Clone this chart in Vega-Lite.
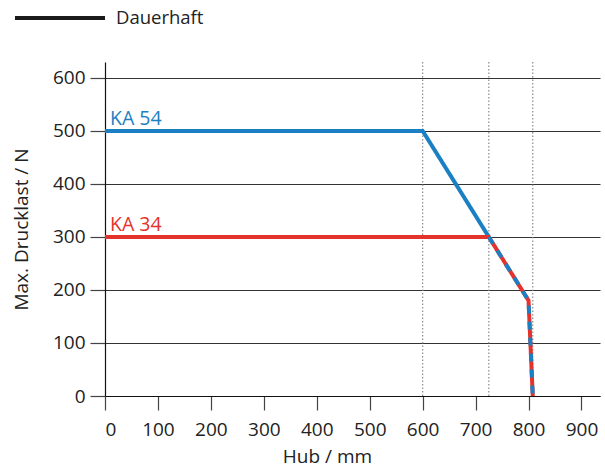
{
  "$schema": "https://vega.github.io/schema/vega-lite/v6.json",
  "width": 495,
  "height": 334,
  "autosize": {"type": "none"},
  "padding": {"left": 105, "top": 62, "right": 5, "bottom": 74},
  "config": {
    "font": "Open Sans",
    "view": {"stroke": null},
    "axis": {
      "labelFont": "Open Sans",
      "titleFont": "Open Sans",
      "labelFontSize": 19,
      "titleFontSize": 19,
      "titleFontWeight": "normal",
      "labelColor": "#222",
      "titleColor": "#222",
      "domainColor": "#111",
      "tickColor": "#444",
      "domainWidth": 1.2,
      "tickWidth": 1.2
    }
  },
  "datasets": {
    "linien": [
      {"Modell": "KA 54", "Teil": "Dauerhaft", "Hub": 0, "Last": 500},
      {"Modell": "KA 54", "Teil": "Dauerhaft", "Hub": 600, "Last": 500},
      {"Modell": "KA 54", "Teil": "Dauerhaft", "Hub": 725, "Last": 300},
      {"Modell": "KA 54", "Teil": "gemeinsam", "Hub": 725, "Last": 300},
      {"Modell": "KA 54", "Teil": "gemeinsam", "Hub": 800, "Last": 180},
      {"Modell": "KA 54", "Teil": "gemeinsam", "Hub": 808, "Last": 0},
      {"Modell": "KA 34", "Teil": "Dauerhaft", "Hub": 0, "Last": 300},
      {"Modell": "KA 34", "Teil": "Dauerhaft", "Hub": 725, "Last": 300},
      {"Modell": "KA 34", "Teil": "Dauerhaft", "Hub": 800, "Last": 180},
      {"Modell": "KA 34", "Teil": "Dauerhaft", "Hub": 808, "Last": 0}
    ],
    "grenzen": [{"Hub": 600}, {"Hub": 725}, {"Hub": 808}]
  },
  "encoding": {
    "x": {
      "field": "Hub",
      "type": "quantitative",
      "scale": {"domain": [0, 935], "nice": false, "zero": false},
      "axis": {
        "title": "Hub / mm",
        "values": [0, 100, 200, 300, 400, 500, 600, 700, 800, 900],
        "grid": false,
        "tickSize": 14,
        "labelPadding": 10,
        "titlePadding": 8,
        "titleX": 222
      }
    }
  },
  "layer": [
    {
      "data": {"name": "grenzen"},
      "mark": {"type": "rule", "color": "#8a8a8a", "strokeDash": [1.5, 2], "strokeWidth": 1.2},
      "encoding": {
        "y": {"datum": 0, "type": "quantitative"},
        "y2": {"datum": 630}
      }
    },
    {
      "data": {"name": "linien"},
      "transform": [{"filter": "datum.Teil === 'Dauerhaft'"}],
      "mark": {"type": "line", "strokeWidth": 4, "strokeJoin": "miter", "strokeCap": "butt"},
      "encoding": {
        "y": {
          "field": "Last",
          "type": "quantitative",
          "scale": {"domain": [0, 630], "nice": false},
          "axis": {
            "title": "Max. Drucklast / N",
            "values": [0, 100, 200, 300, 400, 500, 600],
            "grid": true,
            "gridColor": "#333",
            "gridWidth": 1.2,
            "tickSize": 15,
            "labelPadding": 5,
            "titlePadding": 21
          }
        },
        "color": {
          "field": "Modell",
          "type": "nominal",
          "scale": {"domain": ["KA 54", "KA 34"], "range": ["#1b80c3", "#e4322c"]},
          "legend": null
        },
        "strokeDash": {
          "field": "Teil",
          "type": "nominal",
          "scale": {"domain": ["Dauerhaft"], "range": [[1, 0]]},
          "legend": {
            "title": null,
            "orient": "none",
            "legendX": -92,
            "legendY": -91,
            "symbolType": "stroke",
            "symbolSize": 8100,
            "symbolStrokeWidth": 4,
            "labelFontSize": 18.5,
            "labelFont": "Open Sans",
            "labelColor": "#222",
            "labelOffset": 9,
            "padding": 0,
            "encode": {"symbols": {"update": {"stroke": {"value": "#1a1a1a"}, "strokeWidth": {"value": 4}}}}
          }
        },
        "order": {"field": "Hub", "type": "quantitative"}
      }
    },
    {
      "data": {"name": "linien"},
      "transform": [{"filter": "datum.Teil === 'gemeinsam'"}],
      "mark": {"type": "line", "strokeWidth": 4, "color": "#1b80c3", "strokeDash": [8, 8], "strokeCap": "butt"},
      "encoding": {
        "y": {"field": "Last", "type": "quantitative"},
        "order": {"field": "Hub", "type": "quantitative"}
      }
    },
    {
      "data": {"name": "linien"},
      "transform": [{"filter": "datum.Hub === 0"}],
      "mark": {"type": "text", "align": "left", "baseline": "alphabetic", "dx": 5, "dy": -6, "fontSize": 19.5, "font": "Open Sans"},
      "encoding": {
        "y": {"field": "Last", "type": "quantitative"},
        "text": {"field": "Modell"},
        "color": {"field": "Modell", "type": "nominal", "legend": null}
      }
    }
  ]
}
